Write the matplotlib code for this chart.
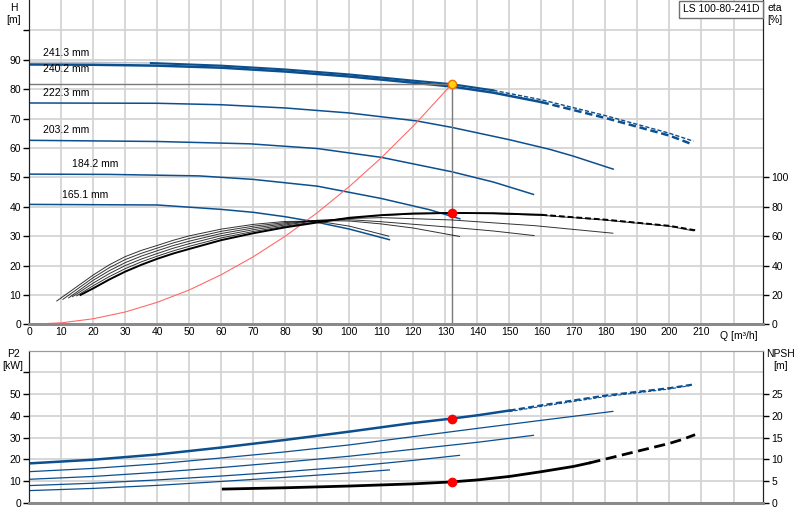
import matplotlib.pyplot as plt

plt.rcParams["font.family"] = ["Liberation Sans", "DejaVu Sans"]

BLUE = "#0b4f8f"
GRID = "#d4d4d4"

# impeller diameters and head curves H(Q)
h_labels = ["241.3 mm", "240.2 mm", "222.3 mm", "203.2 mm", "184.2 mm", "165.1 mm"]
q_241 = [0, 20, 38, 60, 80, 100, 120, 132, 145, 160, 180, 200, 207.5]
h_241 = [89.2, 89.1, 88.9, 88.0, 86.7, 85.0, 82.9, 81.7, 79.6, 76.4, 71.0, 65.0, 62.3]
q_240 = [0, 20, 40, 60, 80, 100, 120, 132, 145, 160, 180, 200, 206.5]
h_240 = [88.4, 88.3, 88.0, 87.3, 86.0, 84.3, 82.2, 80.9, 78.8, 75.6, 70.2, 64.2, 61.5]
q_222 = [0, 40, 60, 80, 100, 121, 132, 150, 162.7, 170, 182.4]
h_222 = [75.3, 75.2, 74.7, 73.6, 71.9, 69.2, 67.0, 62.8, 59.5, 57.2, 52.8]
q_203 = [0, 40, 69, 90, 110, 132, 145, 157.5]
h_203 = [62.6, 62.2, 61.4, 59.8, 56.8, 51.9, 48.4, 44.2]
q_184 = [0, 25, 53, 70, 90, 110, 125, 134.5]
h_184 = [51.1, 51.0, 50.5, 49.3, 47.0, 42.8, 39.0, 35.9]
q_165 = [0, 40, 60, 70, 80, 90, 100, 112.5]
h_165 = [40.8, 40.6, 39.1, 38.1, 36.6, 34.7, 32.4, 28.8]

# efficiency curves eta(Q) [%]
qe_241 = [16, 20, 25, 30, 35, 40, 45, 50, 60, 70, 80, 90, 100, 110, 120, 132, 145, 160, 180, 200, 208.3]
e_241 = [20, 24.5, 30.5, 35.9, 40.5, 44.6, 48.2, 51.3, 57.3, 62.0, 66.0, 69.3, 72.5, 74.3, 75.4, 75.8, 75.6, 74.5, 71.2, 67.0, 63.9]
qe_240 = [14.8, 20, 25, 30, 35, 40, 45, 50, 60, 70, 80, 90, 100, 110, 120, 132, 145, 160, 180, 200, 207.5]
e_240 = [19.4, 26.3, 32.5, 37.9, 42.5, 46.4, 50.0, 53.1, 58.8, 63.2, 66.8, 69.8, 72.3, 74.0, 75.1, 75.5, 75.3, 74.2, 70.9, 66.7, 63.6]
qe_222 = [13.5, 20, 25, 30, 35, 40, 45, 50, 60, 70, 80, 90, 100, 110, 132, 158, 182.3]
e_222 = [18.8, 28.1, 34.5, 40.0, 44.4, 48.2, 51.8, 54.9, 60.3, 64.4, 67.6, 70.6, 72.0, 72.6, 71.0, 67.1, 62.0]
qe_203 = [12.3, 20, 25, 30, 35, 40, 45, 50, 60, 70, 80, 90, 100, 110, 132, 145, 157.7]
e_203 = [18.0, 30.0, 36.5, 42.0, 46.4, 50.1, 53.6, 56.6, 61.8, 65.6, 68.4, 70.8, 71.2, 69.8, 66.0, 63.5, 60.4]
qe_184 = [10.5, 20, 25, 30, 35, 40, 45, 50, 60, 70, 80, 90, 100, 110, 120, 134.4]
e_184 = [17.0, 31.8, 38.5, 44.1, 48.3, 51.9, 55.4, 58.4, 63.3, 66.8, 69.2, 70.6, 70.3, 68.3, 65.5, 59.8]
qe_165 = [8.6, 20, 25, 30, 35, 40, 45, 50, 60, 70, 80, 90, 100, 112.3]
e_165 = [15.9, 33.6, 40.5, 46.1, 50.3, 53.7, 57.2, 60.2, 64.8, 68.0, 70.0, 70.2, 66.8, 60.0]

# system curve
q_sys = [0, 10, 20, 30, 40, 50, 60, 70, 80, 90, 100, 110, 120, 132]
h_sys = [0, 0.5, 1.9, 4.2, 7.5, 11.7, 16.9, 23.0, 30.0, 38.0, 46.9, 56.7, 67.5, 81.7]

# power P2(Q) [kW]
qp_241 = [0, 20, 40, 60, 80, 100, 120, 132, 140, 150, 160, 180, 200, 208]
p_241 = [18.2, 19.9, 22.3, 25.5, 29.0, 32.8, 36.8, 38.8, 40.3, 42.5, 44.9, 49.4, 52.8, 54.6]
qp_240 = [0, 20, 40, 60, 80, 100, 120, 132, 140, 150, 160, 180, 200, 207]
p_240 = [18.0, 19.6, 22.0, 25.2, 28.6, 32.4, 36.4, 38.4, 39.9, 42.0, 44.4, 48.9, 52.4, 54.1]
qp_222 = [0, 20, 40, 60, 80, 100, 120, 140, 160, 182.3]
p_222 = [14.4, 15.9, 18.0, 20.7, 23.5, 26.7, 30.5, 34.3, 38.0, 42.1]
qp_203 = [0, 20, 40, 60, 80, 100, 120, 140, 157.5]
p_203 = [10.9, 12.2, 14.1, 16.3, 18.8, 21.5, 24.7, 27.9, 31.1]
qp_184 = [0, 20, 40, 60, 80, 100, 120, 134.4]
p_184 = [8.0, 9.1, 10.6, 12.4, 14.4, 16.7, 19.6, 21.9]
qp_165 = [0, 20, 40, 60, 80, 100, 112.5]
p_165 = [5.7, 6.7, 8.1, 9.9, 11.8, 13.8, 15.2]

# NPSH(Q) [m]
q_npsh = [60.6, 80, 100, 120, 132, 140, 150, 160, 170, 175, 180, 185, 190, 195, 200, 204, 208]
npsh = [3.2, 3.5, 3.9, 4.4, 4.85, 5.3, 6.1, 7.2, 8.4, 9.2, 10.1, 11.0, 11.9, 12.8, 13.7, 14.6, 15.7]

duty_q, duty_h, duty_eta, duty_p2, duty_npsh = 132, 81.7, 75.8, 38.8, 4.84
model = "LS 100-80-241D"


def split(q, v, q_cut):
    """Solid part up to q_cut and dashed part from q_cut on (sharing the boundary point)."""
    i = next(k for k, x in enumerate(q) if x >= q_cut)
    return (q[:i + 1], v[:i + 1]), (q[i:], v[i:])


def style_axes(ax, twin, ymax_left, ytick_left, ymax_right, ytick_right):
    ax.set_xlim(0, 229.3)
    ax.set_xticks(range(0, 230, 10))
    ax.grid(True, color=GRID, linewidth=1.3)
    ax.set_axisbelow(True)
    ax.set_ylim(0, ymax_left)
    ax.set_yticks(ytick_left)
    twin.set_ylim(0, ymax_right)
    twin.set_yticks(ytick_right)
    for a in (ax, twin):
        a.spines["left"].set_color("#222222")
        a.spines["right"].set_color("#222222")
        a.spines["bottom"].set_color("#8a8a8a")
        a.spines["bottom"].set_linewidth(2)
        a.spines["top"].set_color("#9a9a9a")
        a.tick_params(labelsize=7.5, length=4, width=1, pad=2)
        a.tick_params(axis="x", length=0)


fig = plt.figure(figsize=(8, 5.2), dpi=100)
ax_h = fig.add_axes([0.0366, 0.3763, 0.9175, 0.6235])
ax_e = ax_h.twinx()
ax_p = fig.add_axes([0.0366, 0.0327, 0.9175, 0.2929])
ax_n = ax_p.twinx()

style_axes(ax_h, ax_e, 110.3, range(0, 101, 10), 220.6, range(0, 101, 20))
style_axes(ax_p, ax_n, 70, range(0, 61, 10), 35, range(0, 26, 5))
ax_h.set_yticklabels([str(v) for v in range(0, 100, 10)] + [""])
ax_p.set_yticklabels([str(v) for v in range(0, 51, 10)] + [""])
ax_h.set_xticklabels([str(v) for v in range(0, 220, 10)] + [""])
ax_p.set_xticklabels([])
ax_h.spines["top"].set_visible(False)
ax_e.spines["top"].set_visible(False)

# head curves
solid, dashed = split(q_241, h_241, 145)
ax_h.plot(q_241[:3], h_241[:3], color="#b8c0cc", lw=1.0)
ax_h.plot(*split(solid[0], solid[1], 38)[1], color=BLUE, lw=1.5)
ax_h.plot(*dashed, color=BLUE, lw=1.0, ls=(0, (3, 1.5)))
solid, dashed = split(q_240, h_240, 155)
ax_h.plot(*solid, color=BLUE, lw=1.8)
ax_h.plot(*dashed, color=BLUE, lw=1.8, ls=(0, (3, 1.5)))
for q, h in [(q_222, h_222), (q_203, h_203), (q_184, h_184), (q_165, h_165)]:
    ax_h.plot(q, h, color=BLUE, lw=1.1)

label_pos = [(4.3, 92.3), (4.3, 86.8), (4.3, 78.7), (4.3, 66.1), (13.3, 54.5), (10.2, 44.0)]
for txt, (x, y) in zip(h_labels, label_pos):
    ax_h.text(x, y, txt, fontsize=7.5, va="center", ha="left")

# system curve and duty point guides
ax_h.plot(q_sys, h_sys, color="#ff6a6a", lw=0.8)
ax_h.plot([0, duty_q], [duty_h, duty_h], color="#7a7a7a", lw=1.0)
ax_h.plot([duty_q, duty_q], [0, duty_h], color="#7a7a7a", lw=1.0)
ax_h.plot([duty_q], [duty_h], "o", ms=6, mfc="#ffd21a", mec="#f07000", mew=1, zorder=5)

# efficiency curves
solid, dashed = split(qe_241, e_241, 160)
ax_e.plot(*solid, color="black", lw=1.4)
ax_e.plot(*dashed, color="black", lw=1.4, ls=(0, (3, 1.5)))
for q, e in [(qe_240, e_240), (qe_222, e_222), (qe_203, e_203), (qe_184, e_184), (qe_165, e_165)]:
    ax_e.plot(q, e, color="black", lw=0.7, alpha=0.8)
ax_e.plot([duty_q], [duty_eta], "o", ms=6, color="red", zorder=5)

# power curves
solid, dashed = split(qp_241, p_241, 150)
ax_p.plot(*solid, color=BLUE, lw=1.8)
ax_p.plot(*dashed, color=BLUE, lw=1.5, ls=(0, (3, 1.5)))
ax_p.plot(*split(qp_240, p_240, 150)[1], color=BLUE, lw=0.8, ls=(0, (3, 1.5)))
for q, p in [(qp_222, p_222), (qp_203, p_203), (qp_184, p_184), (qp_165, p_165)]:
    ax_p.plot(q, p, color=BLUE, lw=0.9)
ax_p.plot([duty_q], [duty_p2], "o", ms=6, color="red", zorder=5)

# NPSH curve
solid, dashed = split(q_npsh, npsh, 175)
ax_n.plot(*solid, color="black", lw=2)
ax_n.plot(*dashed, color="black", lw=2, ls=(0, (4, 2)))
ax_n.plot([duty_q], [duty_npsh], "o", ms=6, color="red", zorder=5)

# axis titles
fig.text(14 / 800, 1 - 3 / 520, "H\n[m]", fontsize=7.5, ha="center", va="top", linespacing=1.3)
fig.text(767 / 800, 1 - 3 / 520, "eta\n[%]", fontsize=7.5, ha="left", va="top", linespacing=1.3)
fig.text(13 / 800, 1 - 349 / 520, "P2\n[kW]", fontsize=7.5, ha="center", va="top", linespacing=1.3)
fig.text(766 / 800, 1 - 349 / 520, "NPSH\n[m]", fontsize=7.5, ha="left", va="top",
         linespacing=1.3, multialignment="center")
ax_h.text(221.8, -2.2, "Q [m³/h]", fontsize=7.5, ha="center", va="top", clip_on=False)
fig.text(721 / 800, 1 - 9.5 / 520, model, fontsize=7.5, ha="center", va="center",
         bbox=dict(boxstyle="square,pad=0.35", fc="white", ec="#707070", lw=1))

fig.savefig("out.png", dpi=100)
